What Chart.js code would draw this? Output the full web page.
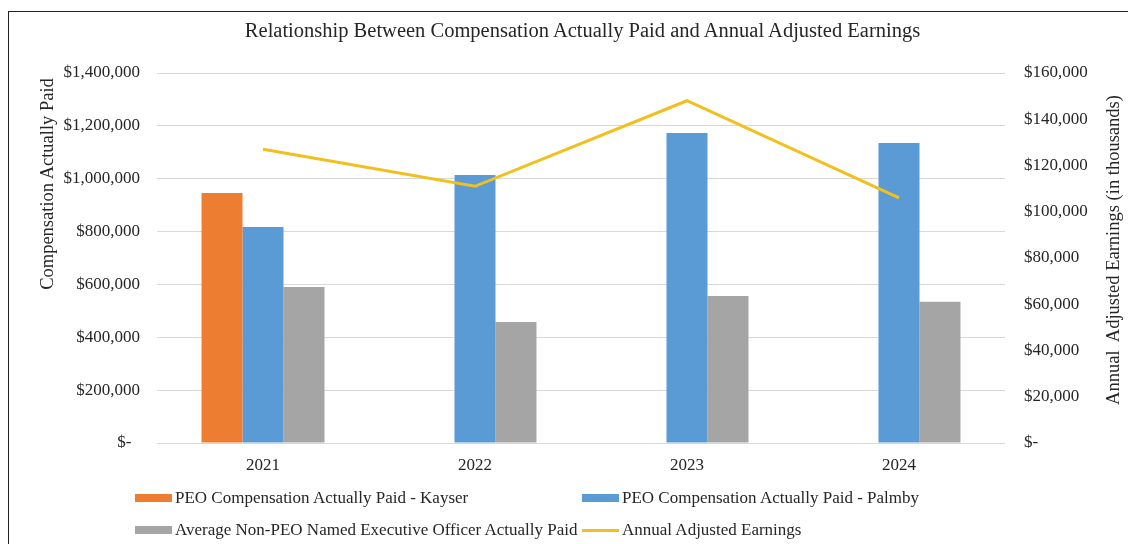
<!DOCTYPE html>
<html>
<head>
<meta charset="utf-8">
<script src="https://cdn.jsdelivr.net/npm/chart.js@4"></script>
<style>
  html, body { margin: 0; padding: 0; background: #fff; }
  #wrap { position: relative; width: 1128px; height: 544px; overflow: hidden; font-family: "Liberation Serif", "Times New Roman", serif; color: #262626; }
  #frame { position: absolute; left: 8px; top: 11px; width: 1200px; height: 600px; border-left: 1px solid #222; border-top: 1px solid #222; }
  #title { position: absolute; left: 0; width: 1165px; top: 19px; text-align: center; font-size: 20.5px; }
  .axt { position: absolute; font-size: 18.5px; white-space: pre; transform: translate(-50%, -50%) rotate(-90deg); }
  #legend { position: absolute; left: 135px; top: 482px; font-size: 17px; }
  .row { display: flex; align-items: center; height: 32px; white-space: nowrap; }
  .item { display: flex; align-items: center; }
  .mark { display: inline-block; width: 37px; margin-right: 3px; }
</style>
</head>
<body>
<div id="wrap">
  <canvas id="c" width="1128" height="544"></canvas>
  <div id="frame"></div>
  <div id="title">Relationship Between Compensation Actually Paid and Annual Adjusted Earnings</div>
  <div class="axt" style="left:47px; top:184px;">Compensation Actually Paid</div>
  <div class="axt" style="left:1113px; top:250px;">Annual  Adjusted Earnings (in thousands)</div>
  <div id="legend"></div>
</div>
<script>
/* ------------------------------------------------------------
   Données
------------------------------------------------------------ */
const years = ['2021', '2022', '2023', '2024'];

const kayserPaid = [946000, null, null, null];
const palmbyPaid = [817000, 1014000, 1173000, 1135000];
const neoAvgPaid = [590000, 458000, 556000, 534000];
const adjEarnings = [127000, 111000, 148000, 106000];   // en milliers

const leftTicks = [0, 200000, 400000, 600000, 800000, 1000000, 1200000, 1400000];
const rightTicks = [0, 20000, 40000, 60000, 80000, 100000, 120000, 140000, 160000];

const COLORS = { kayser: '#ED7D31', palmby: '#5B9BD5', neo: '#A5A5A5', earn: '#F0C020' };

const money = v => v === 0 ? '$-  ' : '$' + v.toLocaleString('en-US');
const FONT = { family: '"Liberation Serif", "Times New Roman", serif', size: 17 };

/* ------------------------------------------------------------
   Graphique
------------------------------------------------------------ */
const datasets = [
    { label: 'PEO Compensation Actually Paid - Kayser', data: kayserPaid, backgroundColor: COLORS.kayser, yAxisID: 'y', order: 2 },
    { label: 'PEO Compensation Actually Paid - Palmby', data: palmbyPaid, backgroundColor: COLORS.palmby, yAxisID: 'y', order: 2 },
    { label: 'Average Non-PEO Named Executive Officer Actually Paid', data: neoAvgPaid, backgroundColor: COLORS.neo, yAxisID: 'y', order: 2 },
    { label: 'Annual Adjusted Earnings', data: adjEarnings, type: 'line', borderColor: COLORS.earn, backgroundColor: COLORS.earn,
      borderWidth: 3, pointRadius: 0, tension: 0, yAxisID: 'y1', order: 0 }
];

new Chart(document.getElementById('c').getContext('2d'), {
    type: 'bar',
    data: { labels: years, datasets },
    options: {
        responsive: false,
        animation: false,
        devicePixelRatio: 1,
        categoryPercentage: 0.58,
        barPercentage: 1,
        layout: { padding: { top: 73, left: 0, right: 0, bottom: 0 } },
        plugins: { legend: { display: false }, title: { display: false }, tooltip: { enabled: false } },
        scales: {
            x: {
                grid: { display: false },
                border: { display: false },
                ticks: { color: '#262626', font: FONT, padding: 4 },
                afterFit: s => { s.height = 101; }
            },
            y: {
                position: 'left',
                min: 0, max: 1400000,
                afterBuildTicks: s => { s.ticks = leftTicks.map(value => ({ value })); },
                grid: { color: '#d9d9d9', drawTicks: false },
                border: { display: false },
                ticks: { color: '#262626', font: FONT, padding: 17, callback: money },
                afterFit: s => { s.width = 157; }
            },
            y1: {
                position: 'right',
                min: 0, max: 160000,
                afterBuildTicks: s => { s.ticks = rightTicks.map(value => ({ value })); },
                grid: { display: false, drawTicks: false },
                border: { display: false },
                ticks: { color: '#262626', font: FONT, padding: 19, callback: v => v === 0 ? '$-' : money(v) },
                afterFit: s => { s.width = 123; }
            }
        }
    }
});

/* ------------------------------------------------------------
   Légende (deux lignes, deux colonnes)
------------------------------------------------------------ */
const legendRows = [[0, 1], [2, 3]];
const legendColWidth = 447;
const legend = document.getElementById('legend');
legendRows.forEach(row => {
    const div = document.createElement('div');
    div.className = 'row';
    row.forEach((i, k) => {
        const ds = datasets[i];
        const item = document.createElement('div');
        item.className = 'item';
        if (k === 0) item.style.width = legendColWidth + 'px';
        const mark = document.createElement('span');
        mark.className = 'mark';
        const isLine = ds.type === 'line';
        mark.style.height = isLine ? '3px' : '8px';
        mark.style.background = isLine ? ds.borderColor : ds.backgroundColor;
        item.appendChild(mark);
        item.appendChild(document.createTextNode(ds.label));
        div.appendChild(item);
    });
    legend.appendChild(div);
});
</script>
</body>
</html>
